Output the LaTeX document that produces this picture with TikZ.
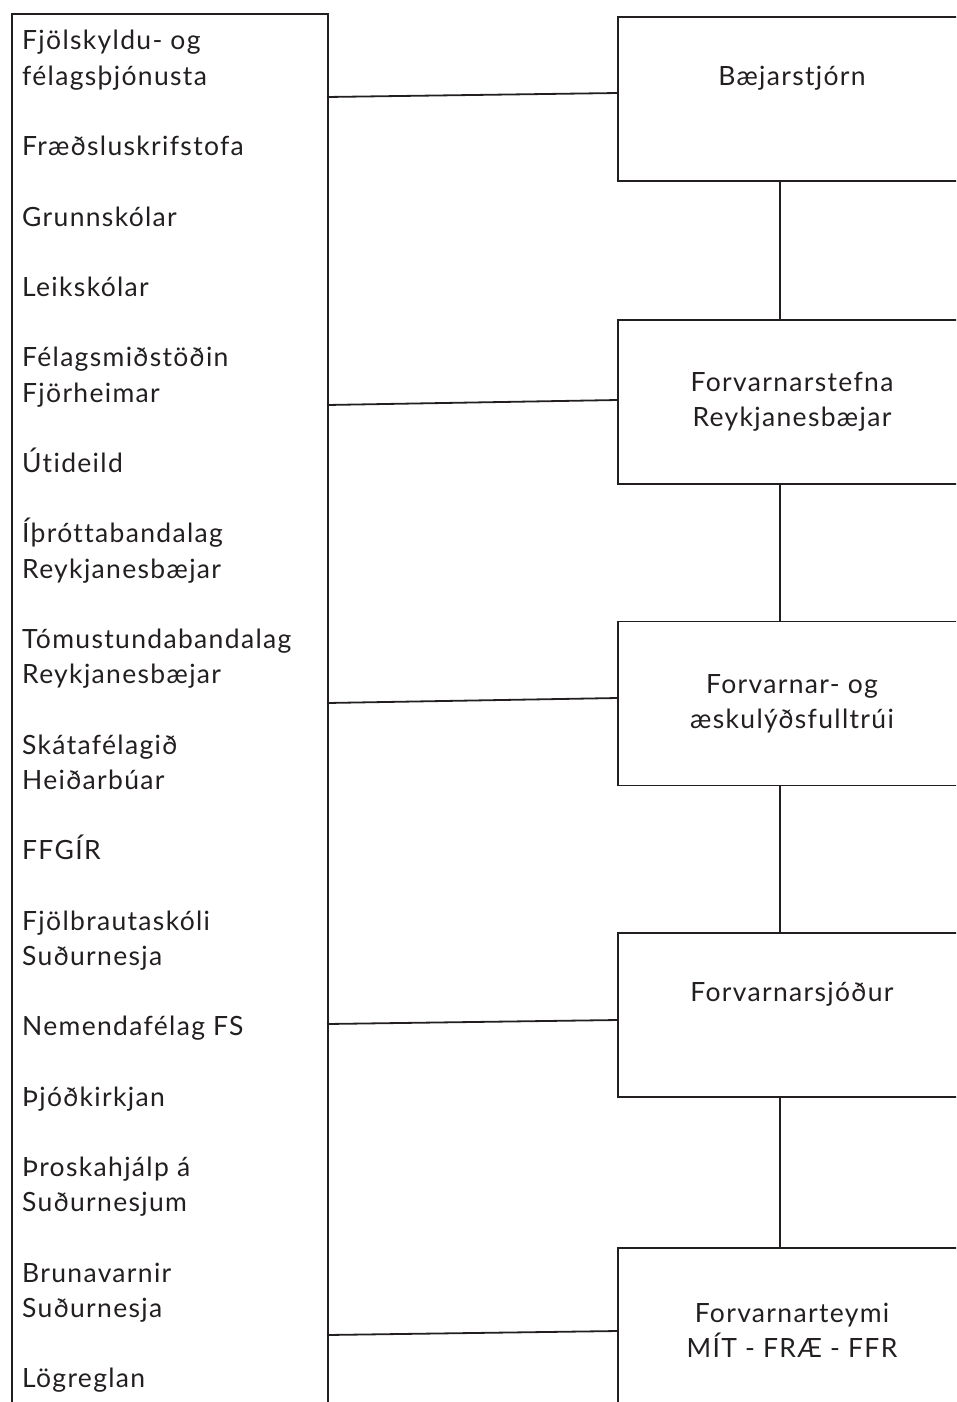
\documentclass[tikz,border=0pt]{standalone}
\usepackage{fontspec}
\setmainfont[Ligatures=NoCommon,LetterSpace=5]{Lato}
\definecolor{ink}{HTML}{231F20}

\begin{document}
\begin{tikzpicture}[x=1pt,y=-1pt,
    every node/.style={text=ink,font=\fontsize{26.5}{35.2}\selectfont},
    item/.style={anchor=base west,align=left,inner sep=0pt},
    box/.style={draw=ink,line width=1.8pt,minimum width=348pt,minimum height=164pt,align=center}]
        \path[use as bounding box,clip] (0,0) rectangle (956,1402);

        \node[draw=ink,line width=1.8pt,anchor=north west,minimum width=316pt,minimum height=1440pt] (list) at (11,13) {};

        % two-line items are placed by the baseline of their last line
        \node[item] (fjols) at (22,85.2) {Fjölskyldu- og\\félagsþjónusta};
        \node[item] (fraed) at (22,155.6) {Fræðsluskrifstofa};
        \node[item] (grunn) at (22,226) {Grunnskólar};
        \node[item] (leik) at (22,296.4) {Leikskólar};
        \node[item] (felm) at (22,402) {Félagsmiðstöðin\\Fjörheimar};
        \node[item] (uti) at (22,472.4) {Útideild};
        \node[item] (ithr) at (22,578) {Íþróttabandalag\\Reykjanesbæjar};
        \node[item] (tomst) at (22,683.6) {Tómustundabandalag\\Reykjanesbæjar};
        \node[item] (skata) at (22,789.2) {Skátafélagið\\Heiðarbúar};
        \node[item] (ffgir) at (22,859.6) {FFGÍR};
        \node[item] (fjolb) at (22,965.2) {Fjölbrautaskóli\\Suðurnesja};
        \node[item] (nem) at (22,1035.6) {Nemendafélag FS};
        \node[item] (kirkja) at (22,1106) {Þjóðkirkjan};
        \node[item] (throsk) at (22,1211.6) {Þroskahjálp á\\Suðurnesjum};
        \node[item] (bruna) at (22,1317.2) {Brunavarnir\\Suðurnesja};
        \node[item] (logr) at (22,1387.6) {Lögreglan};

        \node[box] (baej) at (792,99) {Bæjarstjórn\\\strut};
        \node[box] (stefna) at (792,402) {Forvarnarstefna\\Reykjanesbæjar};
        \node[box] (fulltr) at (792,703.5) {Forvarnar- og\\æskulýðsfulltrúi};
        \node[box] (sjodur) at (792,1015) {Forvarnarsjóður\\\strut};
        \node[box] (teymi) at (792,1330) {Forvarnarteymi\\MÍT - FRÆ - FFR};

        \coordinate (l1) at (327,97);
        \coordinate (l2) at (327,405);
        \coordinate (l3) at (327,703);
        \coordinate (l4) at (327,1024);
        \coordinate (l5) at (327,1335);
        \coordinate (r1) at (618,93);
        \coordinate (r2) at (618,400);
        \coordinate (r3) at (618,698);
        \coordinate (r4) at (618,1020);
        \coordinate (r5) at (618,1331);

        \draw[ink,line width=1.8pt] (l1) -- (r1);
        \draw[ink,line width=1.8pt] (l2) -- (r2);
        \draw[ink,line width=1.8pt] (l3) -- (r3);
        \draw[ink,line width=1.8pt] (l4) -- (r4);
        \draw[ink,line width=1.8pt] (l5) -- (r5);

        \draw[ink,line width=1.8pt] ([xshift=-12pt]baej.south) -- ([xshift=-12pt]stefna.north);
        \draw[ink,line width=1.8pt] ([xshift=-12pt]stefna.south) -- ([xshift=-12pt]fulltr.north);
        \draw[ink,line width=1.8pt] ([xshift=-12pt]fulltr.south) -- ([xshift=-12pt]sjodur.north);
        \draw[ink,line width=1.8pt] ([xshift=-12pt]sjodur.south) -- ([xshift=-12pt]teymi.north);
      \end{tikzpicture}
\end{document}
